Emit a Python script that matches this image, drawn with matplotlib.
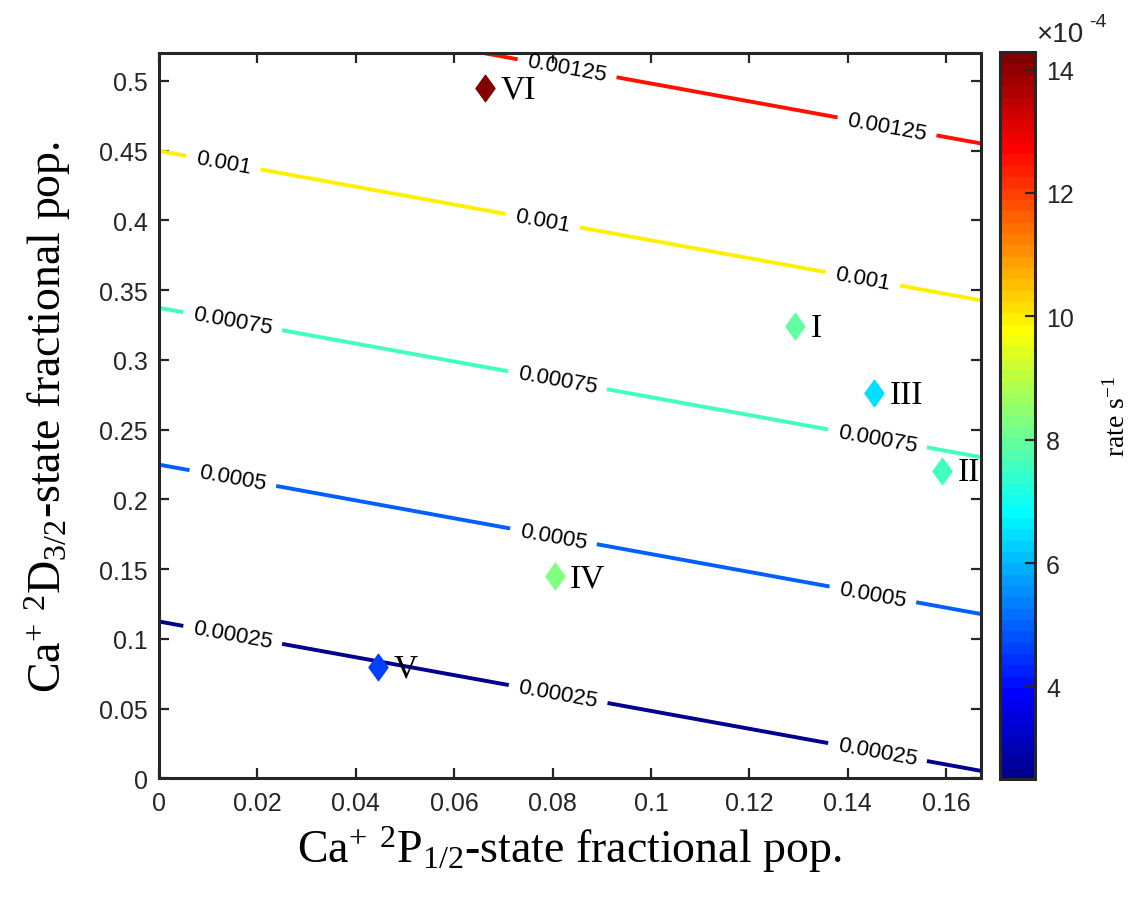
import numpy as np
import matplotlib
matplotlib.use('Agg')
import matplotlib.pyplot as plt
from matplotlib.path import Path
from matplotlib.colors import Normalize, ListedColormap
from matplotlib.cm import ScalarMappable
from matplotlib.ticker import MultipleLocator, FormatStrFormatter

plt.rcParams['font.family'] = ['Liberation Sans', 'DejaVu Sans']
plt.rcParams['mathtext.fontset'] = 'custom'
plt.rcParams['mathtext.rm'] = 'Liberation Serif'
plt.rcParams['mathtext.it'] = 'Liberation Serif:italic'

# rate surface over the population grid; it is a plane, so the corners are enough
p_pop_edges = [0.0, 0.167]
d_pop_edges = [0.0, 0.52]
rate_corners = [[0.0, 0.000238],        # rows follow d_pop_edges, cols p_pop_edges
                [0.001156, 0.001394]]
rate_levels = [0.00025, 0.0005, 0.00075, 0.001, 0.00125]
rate_clim = [2.5e-4, 14.28e-4]

# measured operating points
point_names = ['I', 'II', 'III', 'IV', 'V', 'VI']
point_p_pop = [0.1293, 0.1592, 0.1454, 0.0804, 0.0446, 0.0663]
point_d_pop = [0.3242, 0.2205, 0.2760, 0.1448, 0.0796, 0.4947]
point_rate = [7.92e-4, 7.57e-4, 6.46e-4, 8.28e-4, 4.62e-4, 14.2e-4]

# where the contour labels sit along each line
label_spots = [(0.015, 0.103), (0.081, 0.058), (0.146, 0.018),
               (0.015, 0.215), (0.080, 0.170), (0.145, 0.130),
               (0.015, 0.328), (0.081, 0.285), (0.146, 0.243),
               (0.013, 0.440), (0.078, 0.400), (0.143, 0.357),
               (0.083, 0.510), (0.148, 0.468)]


def matlab_jet(n=64):
    # same construction as MATLAB's jet(n)
    t = np.arange(1, n + 1) / n
    r = np.clip(1.5 - np.abs(4 * t - 3), 0, 1)
    g = np.clip(1.5 - np.abs(4 * t - 2), 0, 1)
    b = np.clip(1.5 - np.abs(4 * t - 1), 0, 1)
    return ListedColormap(np.column_stack([r, g, b]))


edge_col = '#262626'
cmap = matlab_jet(64)
norm = Normalize(*rate_clim)

fig = plt.figure(figsize=(11.29, 9.04), dpi=100)
ax = fig.add_axes([0.1408, 0.1379, 0.7278, 0.8023])

P, D = np.meshgrid(p_pop_edges, d_pop_edges)
cs = ax.contour(P, D, np.array(rate_corners), levels=rate_levels,
                cmap=cmap, norm=norm, linewidths=2.8)
ax.clabel(cs, rate_levels, inline=True, fmt='%g', fontsize=16, colors='k',
          manual=label_spots, inline_spacing=10)

# taller-than-wide diamond
diamond = Path([(0, 1), (0.72, 0), (0, -1), (-0.72, 0), (0, 1)],
               [Path.MOVETO, Path.LINETO, Path.LINETO, Path.LINETO, Path.CLOSEPOLY])

for name, px, py, r in zip(point_names, point_p_pop, point_d_pop, point_rate):
    c = cmap(norm(r))
    ax.plot(px, py, marker=diamond, markersize=19, color=c, markeredgecolor=c,
            linestyle='')
    ax.annotate(name, (px, py), xytext=(11, -1), textcoords='offset points',
                va='center', ha='left', fontsize=24, family='Liberation Serif')

ax.set_xlim(p_pop_edges)
ax.set_ylim(d_pop_edges)
ax.xaxis.set_major_locator(MultipleLocator(0.02))
ax.yaxis.set_major_locator(MultipleLocator(0.05))
ax.xaxis.set_major_formatter(FormatStrFormatter('%g'))
ax.yaxis.set_major_formatter(FormatStrFormatter('%g'))
ax.tick_params(direction='in', top=True, right=True, length=7, width=1.6,
               color=edge_col, labelcolor=edge_col, labelsize=18)
ax.tick_params(axis='x', pad=9)
ax.tick_params(axis='y', pad=8)
for sp in ax.spines.values():
    sp.set_linewidth(2.2)
    sp.set_color(edge_col)

ax.set_xlabel(r'Ca$^{+}$ $^{2}$P$_{1/2}$-state fractional pop.',
              family='Liberation Serif', fontsize=33, labelpad=6)
ax.set_ylabel(r'Ca$^{+}$ $^{2}$D$_{3/2}$-state fractional pop.',
              family='Liberation Serif', fontsize=33, labelpad=19)

# colorbar in units of 1e-4
cax = fig.add_axes([0.8857, 0.1372, 0.0310, 0.8039])
sm = ScalarMappable(norm=Normalize(rate_clim[0] * 1e4, rate_clim[1] * 1e4), cmap=cmap)
cb = fig.colorbar(sm, cax=cax, ticks=[4, 6, 8, 10, 12, 14])
cb.outline.set_linewidth(2.2)
cb.outline.set_edgecolor(edge_col)
cax.tick_params(direction='in', length=7, width=1.6, color=edge_col,
                labelcolor=edge_col, labelsize=18, pad=8)
cb.set_label(r'rate s$^{-1}$', family='Liberation Serif', fontsize=20,
             rotation=90, labelpad=22)

fig.text(1036 / 1129, 1 - 42 / 904, '\u00d710', fontsize=20, color=edge_col,
         va='baseline', ha='left')
fig.text(1089 / 1129, 1 - 27 / 904, '-4', fontsize=14, color=edge_col,
         va='baseline', ha='left')

fig.savefig('out.png', dpi=100)
